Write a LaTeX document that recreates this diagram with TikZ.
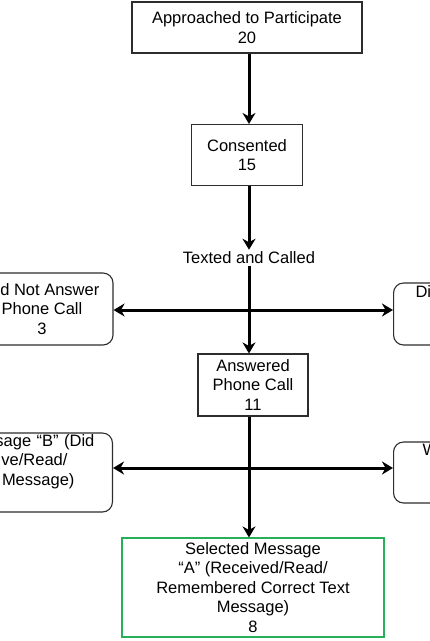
\documentclass[tikz,border=0pt]{standalone}
\usepackage{fontspec}
\setmainfont{Liberation Sans}
\usetikzlibrary{arrows.meta}
\definecolor{boxgray}{RGB}{45,45,45}
\definecolor{pickgreen}{RGB}{40,175,90}
\tikzset{
  box/.style={draw=boxgray, line width=1.1pt, align=center, inner sep=0pt},
  sidebox/.style={box, rounded corners=10pt},
  flow/.style={line width=3pt, -{Stealth[length=11pt,width=13pt,inset=3.5pt]}},
}
\begin{document}
\begin{tikzpicture}[x=1pt,y=-1pt,font=\fontsize{16.5}{19.5}\selectfont]
\useasboundingbox (0,0) rectangle (430,641);
\clip (0,0) rectangle (430,641); % side boxes run off the page
% main column
\node [box, minimum width=230pt, minimum height=51pt] (approached) at (247,27.5) {Approached to Participate\\20};
\node [box, minimum width=111pt, minimum height=61pt] (consented) at (247,155) {Consented\\15};
\node [inner sep=2pt] (texted) at (249,258) {Texted and Called};
\node [box, minimum width=110pt, minimum height=62pt] (answered) at (253,385) {Answered\\Phone Call\\11};
\node [box, draw=pickgreen, minimum width=262pt, minimum height=99pt] (pickA) at (253,587.5) {Selected Message\\“A” (Received/Read/\\Remembered Correct Text\\Message)\\8};
% side boxes
\node [sidebox, minimum width=142pt, minimum height=72pt] (noanswer) at (42,309) {Did Not Answer\\Phone Call\\3};
\node [sidebox, anchor=west, minimum height=62pt, text width=100pt, align=left, inner xsep=22pt] (rtop) at (393,314) {Di\\\strut\\\strut};
\node [sidebox, anchor=east, minimum height=79pt, text width=200pt, align=right, inner xsep=18pt] (pickB) at (113,472.5) {sage “B” (Did\\ve/Read/\rule{27pt}{0pt}\\Message)\rule{20pt}{0pt}\\\strut};
\node [sidebox, anchor=west, minimum height=61pt, text width=100pt, align=left, inner xsep=29pt] (rbot) at (393,472.5) {W\\\strut\\\strut};
% split points on the column
\coordinate (split1) at (249,310);
\coordinate (split2) at (249,468);
% connectors
\draw [flow] (approached.south -| split1) -- (consented.north -| split1);
\draw [flow] (consented.south -| split1) -- (texted.north);
\draw [flow] (texted.south) -- (answered.north -| split1);
\draw [flow] (split1) -- (split1 -| noanswer.east);
\draw [flow] (split1) -- (split1 -| rtop.west);
\draw [flow] (answered.south -| split2) -- (pickA.north -| split2);
\draw [flow] (split2) -- (split2 -| pickB.east);
\draw [flow] (split2) -- (split2 -| rbot.west);
\end{tikzpicture}
\end{document}
